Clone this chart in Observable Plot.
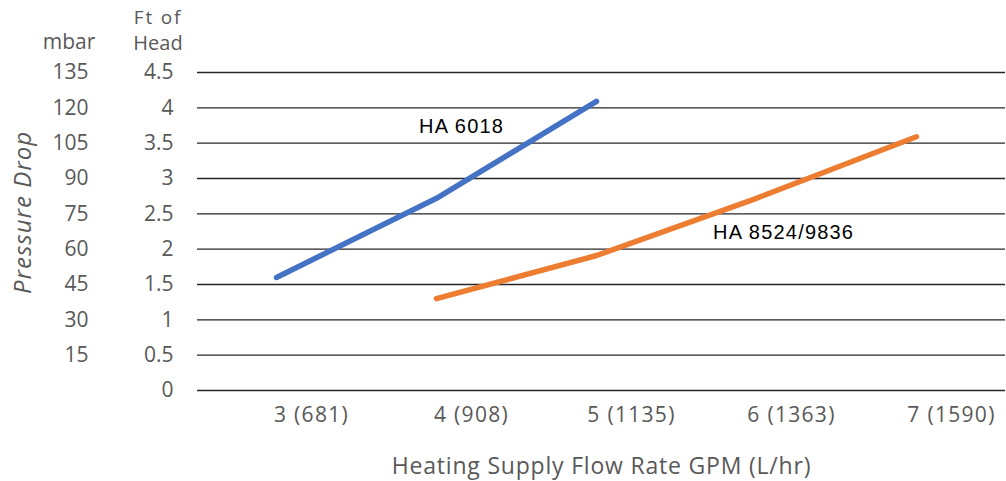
<!DOCTYPE html>
<html><head><meta charset="utf-8">
<script src="https://cdn.jsdelivr.net/npm/d3@7"></script>
<script src="https://cdn.jsdelivr.net/npm/@observablehq/plot@0.6"></script>
<style>
html,body{margin:0;padding:0;background:#fff;}
g[aria-label="x-axis tick label"] text { letter-spacing: 1.3px; }
</style>
</head><body><div id="chart"></div>
<script>
const categories = ["3 (681)", "4 (908)", "5 (1135)", "6 (1363)", "7 (1590)"];
const ha6018 = [1.60, 2.72, 4.09, null, null];
const ha8524 = [null, 1.30, 1.91, 2.72, 3.59];
const seriesNames = ["HA 6018", "HA 8524/9836"];
const ftTicks = [0, 0.5, 1, 1.5, 2, 2.5, 3, 3.5, 4, 4.5];
const mbarTicks = [15, 30, 45, 60, 75, 90, 105, 120, 135];
const mbarPerFt = 30;
const xTitle = "Heating Supply Flow Rate GPM (L/hr)";
const yTitle = "Pressure Drop";

const rows = [];
categories.forEach((c, i) => {
  if (ha6018[i] != null) rows.push({cat: c, v: ha6018[i], s: seriesNames[0]});
});
categories.forEach((c, i) => {
  if (ha8524[i] != null) rows.push({cat: c, v: ha8524[i], s: seriesNames[1]});
});

const gray = "#595959";
const chart = Plot.plot({
  width: 1006,
  height: 481,
  marginLeft: 197,
  marginRight: 1,
  marginTop: 72,
  marginBottom: 91,
  style: {fontFamily: "'Open Sans', sans-serif", fontSize: "21px", background: "#fff", overflow: "visible"},
  x: {type: "point", domain: categories, padding: 0, insetLeft: 78, insetRight: 88},
  y: {domain: [0, 4.5]},
  color: {domain: seriesNames, range: ["#4472C4", "#ED7D31"]},
  marks: [
    Plot.ruleY(ftTicks, {stroke: "#262626", strokeWidth: 1.3}),
    Plot.axisY(ftTicks, {tickSize: 0, tickPadding: 24, fill: gray, fontSize: 21, label: null, tickFormat: d => String(d)}),
    Plot.axisY(mbarTicks.map(m => m / mbarPerFt), {tickSize: 0, tickPadding: 109, fill: gray, fontSize: 21, label: null,
      tickFormat: d => String(Math.round(d * mbarPerFt))}),
    Plot.axisX({tickSize: 0, tickPadding: 17, dx: 35, fill: gray, fontSize: 21, label: null}),
    Plot.line(rows, {x: "cat", y: "v", z: "s", stroke: "s", strokeWidth: 5.5, strokeLinecap: "round", strokeLinejoin: "round"}),
    Plot.text([seriesNames[0]], {x: () => categories[1], y: () => 3.74, text: d => d, textAnchor: "start", dx: -17.5,
      fontFamily: "'Liberation Sans', Arial, sans-serif", fontSize: 20, fill: "#000"}),
    Plot.text([seriesNames[1]], {x: () => categories[3], y: () => 2.24, text: d => d, textAnchor: "start", dx: -43.5,
      fontFamily: "'Liberation Sans', Arial, sans-serif", fontSize: 20, fill: "#000"}),
    Plot.text(["mbar"], {text: d => d, frameAnchor: "top-left", textAnchor: "middle", lineAnchor: "middle",
      dx: 68.5 - 197, dy: 42 - 72, fill: gray, fontSize: 21}),
    Plot.text(["Ft of"], {text: d => d, frameAnchor: "top-left", textAnchor: "middle", lineAnchor: "middle",
      dx: 157.5 - 197, dy: 17 - 72, fill: gray, fontSize: 19}),
    Plot.text(["Head"], {text: d => d, frameAnchor: "top-left", textAnchor: "middle", lineAnchor: "middle",
      dx: 157.5 - 197, dy: 43 - 72, fill: gray, fontSize: 20}),
    Plot.text([yTitle], {text: d => d, frameAnchor: "left", textAnchor: "middle", lineAnchor: "middle", rotate: -90,
      dx: 23 - 197, dy: 212 - 231, fill: gray, fontSize: 24, fontStyle: "italic"}),
    Plot.text([xTitle], {text: d => d, frameAnchor: "bottom", textAnchor: "middle", lineAnchor: "middle",
      dy: 466 - 390, fill: gray, fontSize: 23})
  ]
});
const spacing = new Map([[seriesNames[0], "1.2px"], [seriesNames[1], "1.2px"], [xTitle, "0.8px"], [yTitle, "1px"], ["Ft of", "1.8px"]]);
d3.select(chart).selectAll("text").each(function() {
  const s = spacing.get(this.textContent);
  if (s) this.style.letterSpacing = s;
});
document.getElementById("chart").appendChild(chart);
</script>
</body></html>
